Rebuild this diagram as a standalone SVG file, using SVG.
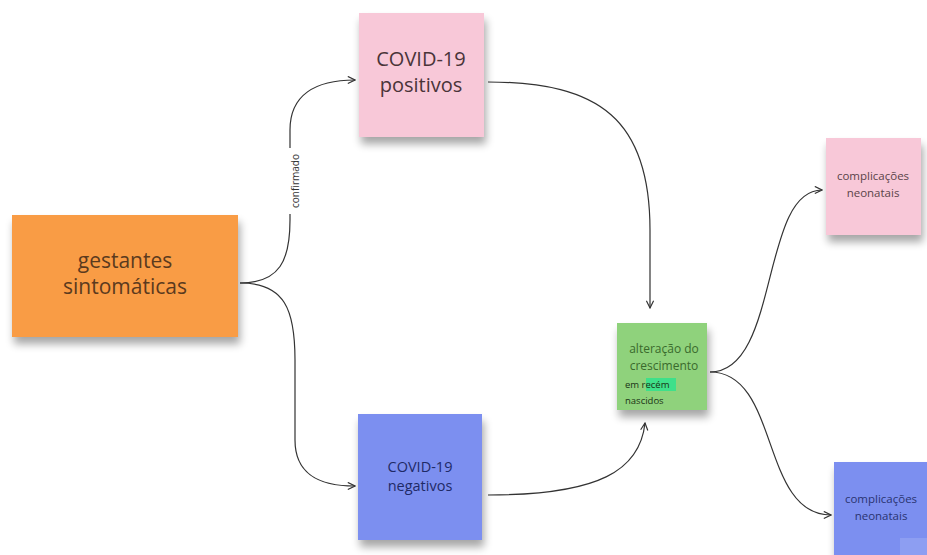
<svg xmlns="http://www.w3.org/2000/svg" width="927" height="555" viewBox="0 0 927 555">
<defs>
<filter id="sh" x="-20%" y="-20%" width="140%" height="160%">
<feGaussianBlur in="SourceAlpha" stdDeviation="4"/>
<feOffset dx="2" dy="7"/>
<feComponentTransfer><feFuncA type="linear" slope="0.35"/></feComponentTransfer>
<feMerge><feMergeNode/><feMergeNode in="SourceGraphic"/></feMerge>
</filter>
<marker id="ah" viewBox="0 0 10 10" refX="9" refY="5" markerWidth="9" markerHeight="9" orient="auto" markerUnits="userSpaceOnUse">
<path d="M1,1 L9,5 L1,9" fill="none" stroke="#333" stroke-width="1.3"/>
</marker>
</defs>
<style>
.t{font-family:"Open Sans","Noto Sans","Liberation Sans",sans-serif;text-anchor:middle}
.c{fill:none;stroke:#333;stroke-width:1.2;marker-end:url(#ah)}
</style>
<rect width="927" height="555" fill="#ffffff"/>
<g id="connectors">
<path class="c" d="M240,283 C280,283 290,260 290,220 L290,130 C290,95 315,80 355,80"/>
<path class="c" d="M240,283 C285,283 295,310 295,360 L295,440 C295,475 320,486 355,486"/>
<rect x="289" y="148" width="12" height="66" fill="#fff"/>
<text class="t" transform="translate(299,181) rotate(-90)" font-size="10" fill="#333">confirmado</text>
<path class="c" d="M488,82 C600,82 650,120 650,230 L650,308"/>
<path class="c" d="M488,495 C600,495 640,470 645,423"/>
<path class="c" d="M710,372 C780,372 760,190 822,190"/>
<path class="c" d="M710,372 C780,372 760,515 831,515"/>
</g>
<g id="gestantes">
<rect x="12" y="215" width="226" height="122" fill="#f99c44" filter="url(#sh)"/>
<text class="t" x="125" y="268" font-size="21" fill="#5b3a1e">gestantes</text>
<text class="t" x="125" y="294" font-size="21" fill="#5b3a1e">sintomáticas</text>
</g>
<g id="positivos">
<rect x="359" y="13" width="125" height="124" fill="#f8c8d8" filter="url(#sh)"/>
<text class="t" x="421" y="66" font-size="20" fill="#4a3438">COVID-19</text>
<text class="t" x="421" y="92" font-size="20" fill="#4a3438">positivos</text>
</g>
<g id="negativos">
<rect x="358" y="414" width="124" height="126" fill="#7c8ff0" filter="url(#sh)"/>
<text class="t" x="420" y="472" font-size="14.5" fill="#1f2a66">COVID-19</text>
<text class="t" x="420" y="491" font-size="14.5" fill="#1f2a66">negativos</text>
</g>
<g id="alteracao">
<rect x="617" y="323" width="90" height="87" fill="#8fd27c" filter="url(#sh)"/>
<text class="t" x="664" y="353" font-size="12" fill="#3a6a2c">alteração do</text>
<text class="t" x="664" y="370" font-size="12" fill="#3a6a2c">crescimento</text>
<rect x="646" y="378" width="30" height="13" fill="#3fe08a"/>
<text x="625" y="388" font-size="9.5" fill="#1a3315" font-family="Open Sans, Liberation Sans, sans-serif">em recém</text>
<text x="625" y="404" font-size="9.5" fill="#1a3315" font-family="Open Sans, Liberation Sans, sans-serif">nascidos</text>
</g>
<g id="complicacoes1">
<rect x="826" y="138" width="95" height="97" fill="#f8c8d8" filter="url(#sh)"/>
<text class="t" x="873" y="180" font-size="11.5" fill="#5a4448">complicações</text>
<text class="t" x="873" y="197" font-size="11.5" fill="#5a4448">neonatais</text>
</g>
<g id="complicacoes2">
<rect x="834" y="462" width="98" height="98" fill="#7c8ff0" filter="url(#sh)"/>
<text class="t" x="881" y="503" font-size="11.5" fill="#2a3470">complicações</text>
<text class="t" x="881" y="520" font-size="11.5" fill="#2a3470">neonatais</text>
<rect x="900" y="538" width="27" height="17" fill="#8d9ef2"/>
</g>
</svg>
